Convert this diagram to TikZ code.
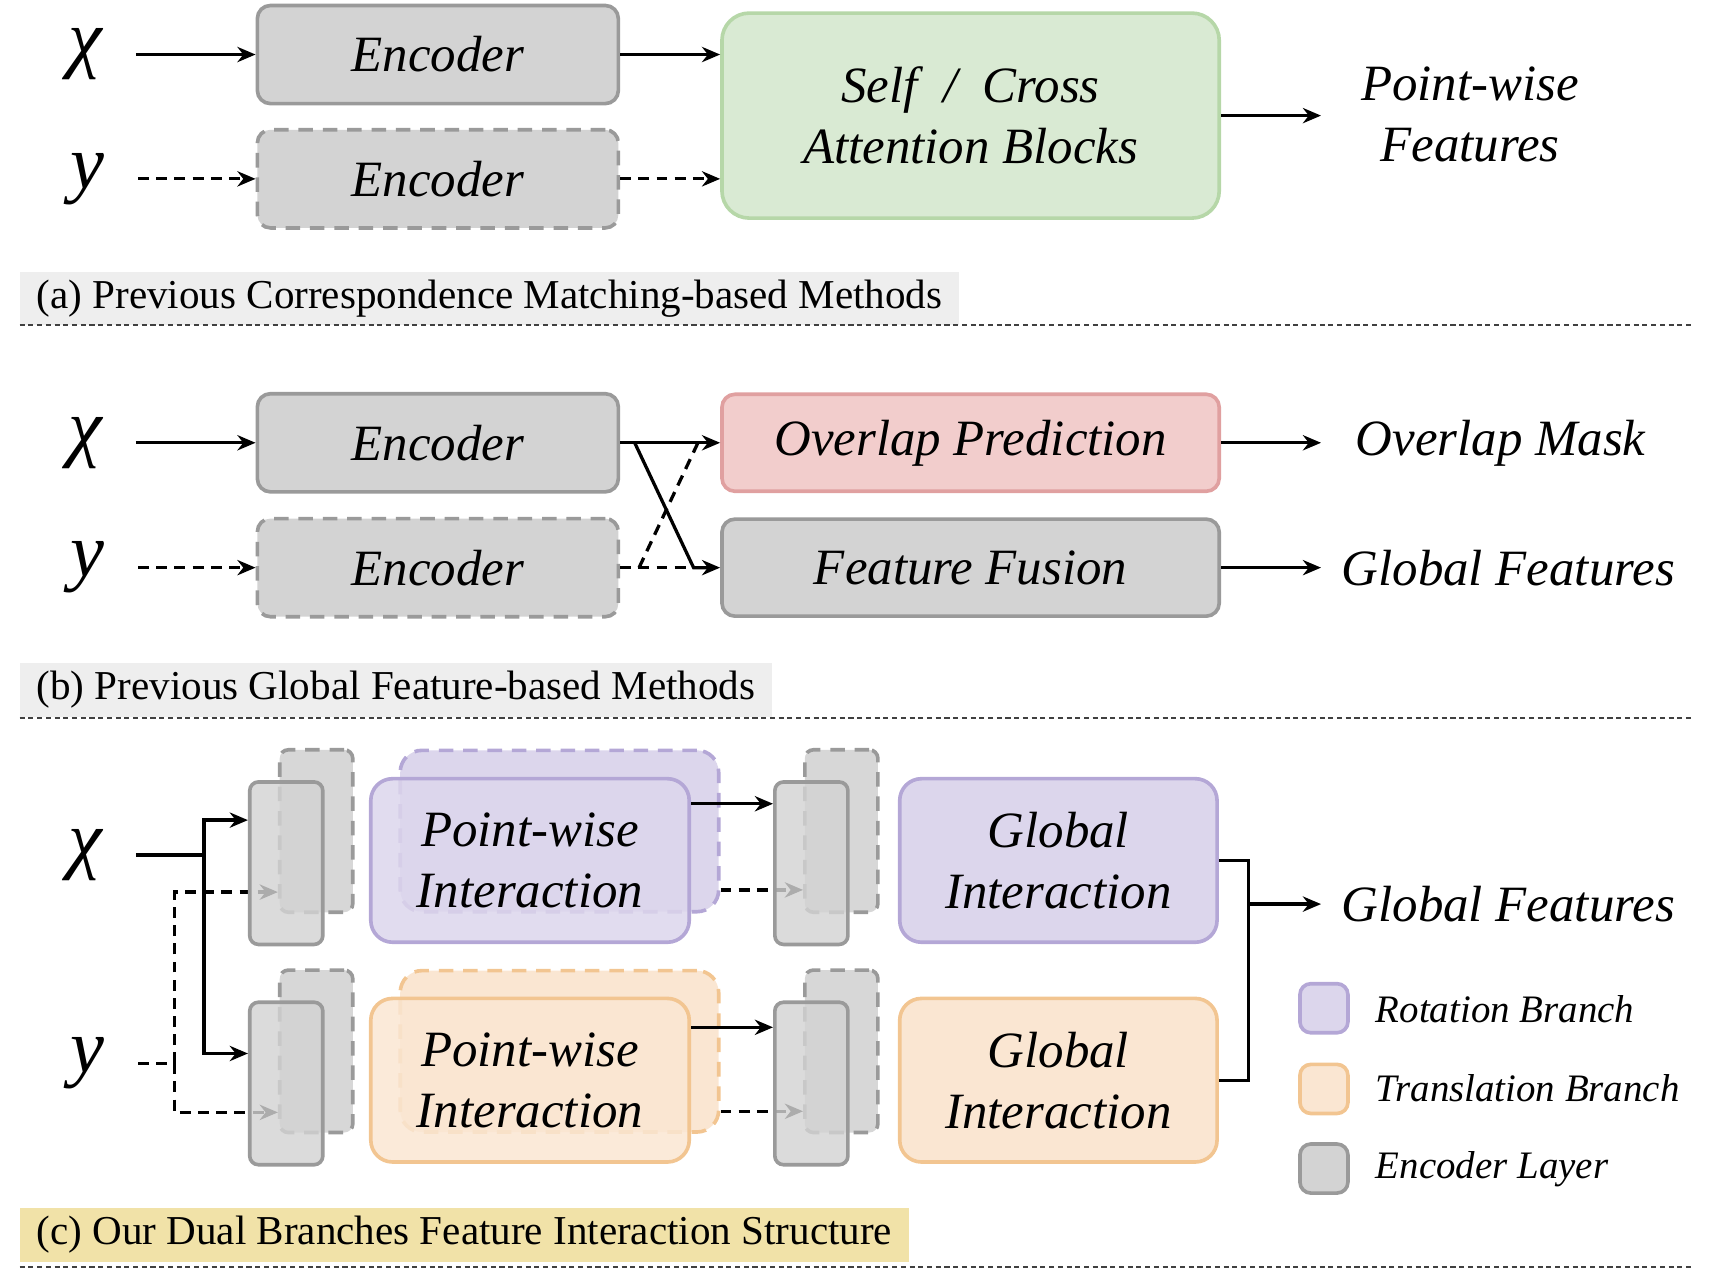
\documentclass[tikz,border=0pt]{standalone}
\usepackage{fontspec}
\setmainfont{Liberation Serif}
\usetikzlibrary{arrows.meta}
\definecolor{gfill}{HTML}{D3D3D3}
\definecolor{gline}{HTML}{9A9A9A}
\definecolor{grfill}{HTML}{D9EAD3}
\definecolor{grline}{HTML}{B6D7A8}
\definecolor{pkfill}{HTML}{F2CDCC}
\definecolor{pkline}{HTML}{E0A0A0}
\definecolor{pufill}{HTML}{DCD6EC}
\definecolor{puline}{HTML}{B4A7D6}
\definecolor{orfill}{HTML}{FAE6D2}
\definecolor{orline}{HTML}{F2C591}
\definecolor{capgray}{HTML}{EEEEEE}
\definecolor{capyel}{HTML}{F1E2A8}
\newcommand\labfont{\fontsize{14}{16.8}\selectfont\itshape}
\newcommand\capfont{\fontsize{11.3}{13}\selectfont}
\newcommand\legfont{\fontsize{10.7}{12}\selectfont\itshape}
\newcommand\inpfont{\fontsize{21}{24}\selectfont\itshape}
\tikzset{
  every node/.style={inner sep=0pt},
  bx/.style={draw, line width=1pt, align=center, font=\labfont},
  encbox/.style={bx, fill=gfill, draw=gline, rounded corners=3.6pt,
    minimum width=99.3pt, minimum height=27pt},
  dbox/.style={dash pattern=on 4pt off 2.7pt},
  widebox/.style={bx, rounded corners=3.6pt, minimum width=136.8pt, minimum height=26.7pt},
  encl/.style={draw=gline, fill=gfill, line width=1pt, rounded corners=2.4pt,
    minimum width=20.1pt, minimum height=44.7pt},
  pwbox/.style={bx, rounded corners=6pt, minimum width=87.6pt, minimum height=45pt},
  legsq/.style={line width=1pt, rounded corners=3pt, minimum width=13.2pt, minimum height=13.5pt},
  inp/.style={font=\inpfont, minimum width=27.6pt},
  lbl/.style={font=\labfont, align=center},
  capbox/.style={font=\capfont, anchor=west, inner xsep=4.5pt, minimum height=14.7pt},
  sepline/.style={line width=0.6pt, draw=black!75, dash pattern=on 1.4pt off 1pt},
  ln/.style={line width=0.9pt},
  arr/.style={ln, -{Stealth[length=5pt,width=4.2pt]}},
  dln/.style={ln, dash pattern=on 3pt off 2pt},
  darr/.style={arr, dash pattern=on 3pt off 2pt},
}
\begin{document}
\begin{tikzpicture}[x=0.3pt, y=-0.3pt]
\useasboundingbox (0,0) rectangle (1568,1174);

% ---------------- (a) ----------------
\node[inp] (xa) at (78,50) {χ};
\node[inp] (ya) at (80,164) {y};
\node[encbox] (ea1) at (401.5,50) {Encoder};
\node[encbox, dbox] (ea2) at (401.5,164) {Encoder};
\node[bx, fill=grfill, draw=grline, rounded corners=7.5pt, minimum width=136.8pt,
  minimum height=56.4pt] (att) at (890,106) {Self \ / \ Cross\\Attention Blocks};
\node[lbl, minimum width=81.6pt] (pwf) at (1348,105) {Point-wise\\Features};
\draw[arr] (xa.east) -- (ea1.west);
\draw[darr] (ya.east) -- (ea2.west);
\draw[arr] (ea1.east) -- (ea1.east -| att.west);
\draw[darr] (ea2.east) -- (ea2.east -| att.west);
\draw[arr] (att.east) -- (pwf.west |- att.east);
\node[capbox, fill=capgray] (capa) at (18,273.5) {(a) Previous Correspondence Matching-based Methods};
\coordinate (sa1) at (18,298); \coordinate (sa2) at (1553,298);
\draw[sepline] (sa1) -- (sa2);

% ---------------- (b) ----------------
\node[inp] (xb) at (78,406) {χ};
\node[inp] (yb) at (80,520.5) {y};
\node[encbox] (eb1) at (401.5,406) {Encoder};
\node[encbox, dbox] (eb2) at (401.5,520.5) {Encoder};
\node[widebox, fill=pkfill, draw=pkline] (ovl) at (890,406) {Overlap Prediction};
\node[widebox, fill=gfill, draw=gline] (ff) at (890,520.5) {Feature Fusion};
\node[lbl, minimum width=98.4pt] (om) at (1376,406) {Overlap Mask};
\node[lbl, minimum width=102.6pt] (gfb) at (1383,520.5) {Global Features};
\draw[arr] (xb.east) -- (eb1.west);
\draw[darr] (yb.east) -- (eb2.west);
\coordinate (b1) at (582,406);
\coordinate (b2) at (636,520.5);
\coordinate (b3) at (586,520.5);
\coordinate (b4) at (640,406);
\draw[dln] (eb2.east) -- (b2);
\draw[dln] (b3) -- (b4);
\draw[arr] (eb1.east) -- (eb1.east -| ovl.west);
\draw[arr] (b1) -- (b2) -- (b2 -| ff.west);
\draw[arr] (ovl.east) -- (om.west);
\draw[arr] (ff.east) -- (gfb.west);
\node[capbox, fill=capgray] (capb) at (18,632.5) {(b) Previous Global Feature-based Methods};
\coordinate (sb1) at (18,658); \coordinate (sb2) at (1553,658);
\draw[sepline] (sb1) -- (sb2);

% ---------------- (c) ----------------
\node[inp] (xc) at (78,784) {χ};
\node[inp] (yc) at (80,975) {y};
% back layers
\node[encl, dbox, fill=gfill!90!white] (tlb) at (290,762) {};
\node[encl, dbox, fill=gfill!90!white] (blb) at (290,964) {};
\node[encl, dbox, fill=gfill!90!white] (trb) at (771.5,762) {};
\node[encl, dbox, fill=gfill!90!white] (brb) at (771.5,964) {};
\node[pwbox, dbox, fill=pufill, draw=puline, minimum height=44.4pt] (pwtb) at (513,762) {};
\node[pwbox, dbox, fill=orfill, draw=orline, minimum height=44.4pt] (pwbb) at (513,964) {};
% dashed inputs (under the front layers)
\coordinate (dj) at (160,975);
\coordinate (dt) at (160,818);
\coordinate (db) at (160,1020);
\draw[dln] (yc.east) -- (dj);
\draw[darr] (dj) -- (dt) -- (dt -| tlb.west);
\draw[darr] (dj) -- (db) -- (db -| blb.west);
\coordinate (q1) at (0,816);
\coordinate (q2) at (0,1019);
\draw[darr] (pwtb.east |- q1) -- (trb.west |- q1);
\draw[darr] (pwbb.east |- q2) -- (brb.west |- q2);
% front layers
\node[encl, fill opacity=0.82] (tlf) at (262.5,791.5) {};
\node[encl, fill opacity=0.82] (blf) at (262.5,993.5) {};
\node[encl, fill opacity=0.82] (trf) at (744,791.5) {};
\node[encl, fill opacity=0.82] (brf) at (744,993.5) {};
\node[pwbox, fill=pufill, draw=puline, fill opacity=0.85, text opacity=1] (pwtf) at (486,789) {Point-wise\\Interaction};
\node[pwbox, fill=orfill, draw=orline, fill opacity=0.85, text opacity=1] (pwbf) at (486,990.5) {Point-wise\\Interaction};
\node[pwbox, fill=pufill, draw=puline, minimum width=87.3pt] (git) at (970.5,789) {Global\\Interaction};
\node[pwbox, fill=orfill, draw=orline, minimum width=87.3pt] (gib) at (970.5,990.5) {Global\\Interaction};
% solid inputs
\coordinate (cj) at (187,784);
\coordinate (ct) at (187,752);
\coordinate (cb) at (187,966);
\draw[ln] (xc.east) -- (cj);
\draw[arr] (cj) -- (ct) -- (ct -| tlf.west);
\draw[arr] (cj) -- (cb) -- (cb -| blf.west);
\coordinate (r1) at (0,737);
\coordinate (r2) at (0,942);
\draw[arr] (pwtf.east |- r1) -- (trf.west |- r1);
\draw[arr] (pwbf.east |- r2) -- (brf.west |- r2);
% outputs
\coordinate (gj) at (1145,829);
\node[lbl, minimum width=102.6pt] (gfc) at (1383,829) {Global Features};
\draw[ln] (git.east) -- (git.east -| gj) -- (gib.east -| gj) -- (gib.east);
\draw[arr] (gj) -- (gfc.west);
% legend
\node[legsq, draw=puline, fill=pufill] (l1) at (1214,924.5) {};
\node[legsq, draw=orline, fill=orfill] (l2) at (1214,998.5) {};
\node[legsq, draw=gline, fill=gfill] (l3) at (1214,1071.5) {};
\node[font=\legfont, anchor=west] (l1t) at (1261,925) {Rotation Branch};
\node[font=\legfont, anchor=west] (l2t) at (1261,998) {Translation Branch};
\node[font=\legfont, anchor=west] (l3t) at (1261,1072) {Encoder Layer};
\node[capbox, fill=capyel] (capc) at (18,1132.5) {(c) Our Dual Branches Feature Interaction Structure};
\coordinate (sc1) at (18,1162); \coordinate (sc2) at (1553,1162);
\draw[sepline] (sc1) -- (sc2);
\end{tikzpicture}
\end{document}
